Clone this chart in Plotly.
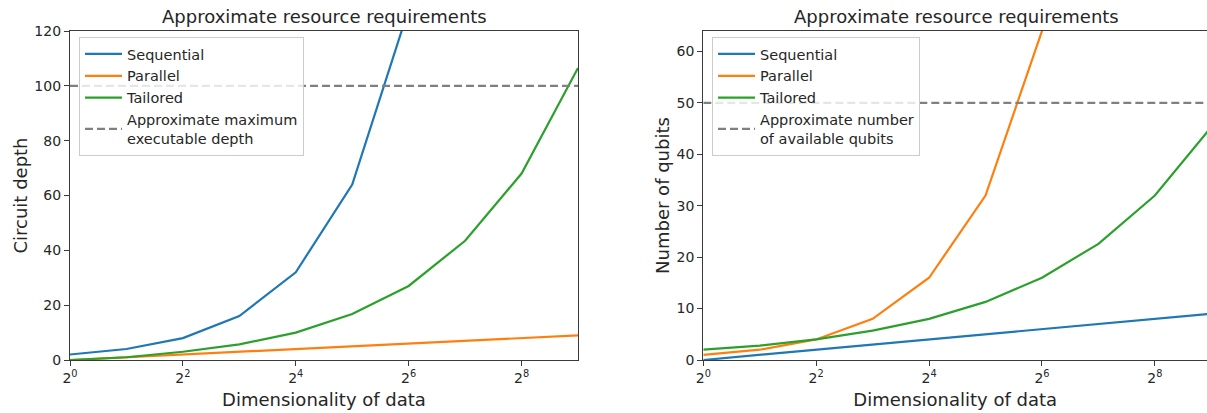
import plotly.graph_objects as go

# ---- data ----
dims = [1, 2, 4, 8, 16, 32, 64, 128, 256, 512]
x_tickvals = [1, 4, 16, 64, 256]
x_ticktext = ["2<sup>0</sup>", "2<sup>2</sup>", "2<sup>4</sup>", "2<sup>6</sup>", "2<sup>8</sup>"]

depth_sequential = [2, 4, 8, 16, 32, 64, 128, 256, 512, 1024]
depth_parallel = [0, 1, 2, 3, 4, 5, 6, 7, 8, 9]
depth_tailored = [0, 1, 3, 5.7, 10, 16.8, 27, 43.5, 68, 106.5]
max_depth = 100

qubits_sequential = [0, 1, 2, 3, 4, 5, 6, 7, 8, 9]
qubits_parallel = [1, 2, 4, 8, 16, 32, 64, 128, 256, 512]
qubits_tailored = [2, 2.8, 4, 5.7, 8, 11.3, 16, 22.6, 32, 45.3]
available_qubits = 50

BLUE, ORANGE, GREEN, GRAY = "#1f77b4", "#ff7f0e", "#2ca02c", "#808080"
FONT = "DejaVu Sans"
TXT = "#262626"

W, H = 1207, 413
ML, MB, MT = 70, 53, 31
PW = W - ML
PH = H - MB - MT

fig = go.Figure()

def add(x, y, name, color, xa, ya, leg, dash="solid"):
    fig.add_trace(go.Scatter(
        x=x, y=y, name=name, mode="lines",
        line=dict(color=color, width=2.2, dash=dash),
        xaxis=xa, yaxis=ya, legend=leg, hoverinfo="skip"))

add(dims, depth_sequential, "Sequential", BLUE, "x", "y", "legend")
add(dims, depth_parallel, "Parallel", ORANGE, "x", "y", "legend")
add(dims, depth_tailored, "Tailored", GREEN, "x", "y", "legend")
add([dims[0], dims[-1]], [max_depth, max_depth],
    "Approximate maximum<br>executable depth", GRAY, "x", "y", "legend", dash="8px,4px")

add(dims, qubits_sequential, "Sequential", BLUE, "x2", "y2", "legend2")
add(dims, qubits_parallel, "Parallel", ORANGE, "x2", "y2", "legend2")
add(dims, qubits_tailored, "Tailored", GREEN, "x2", "y2", "legend2")
add([dims[0], dims[-1]], [available_qubits, available_qubits],
    "Approximate number<br>of available qubits", GRAY, "x2", "y2", "legend2", dash="8px,4px")

def px_x(p):
    return (p - ML) / PW

def px_y(p):
    return (H - MB - p) / PH

ax_common = dict(
    showline=True, linecolor="#3a3a3a", linewidth=1.3,
    ticks="outside", ticklen=5, tickwidth=1.2, tickcolor="#3a3a3a",
    showgrid=False, zeroline=False, automargin=False,
    tickfont=dict(family=FONT, size=14, color=TXT),
    title_font=dict(family=FONT, size=18, color=TXT),
)

left_end = px_x(578)
right_start = px_x(703.3)
per_exp = (578 - 70) / 9.0
right_max_exp = (1207 - 703.3) / per_exp

legend_style = dict(xanchor="left", yanchor="top",
                    bgcolor="rgba(255,255,255,0.8)", bordercolor="#cccccc", borderwidth=1,
                    font=dict(family=FONT, size=14.5, color=TXT), tracegroupgap=0,
                    itemwidth=37)

fig.update_layout(
    width=W, height=H,
    margin=dict(l=ML, r=0, t=MT, b=MB, pad=0),
    plot_bgcolor="white", paper_bgcolor="white",
    font=dict(family=FONT, color=TXT),
    xaxis=dict(ax_common, type="log", domain=[0, left_end], range=[0, 9 * 0.30103],
               tickvals=x_tickvals, ticktext=x_ticktext, mirror=True,
               title=dict(text="Dimensionality of data", standoff=8), anchor="y"),
    yaxis=dict(ax_common, domain=[0, 1], range=[0, 120], dtick=20, mirror=True,
               title=dict(text="Circuit depth", standoff=2), anchor="x"),
    xaxis2=dict(ax_common, type="log", domain=[right_start, 1], range=[0, right_max_exp * 0.30103],
                tickvals=x_tickvals, ticktext=x_ticktext, mirror=True,
                title=dict(text="Dimensionality of data", standoff=8), anchor="y2"),
    yaxis2=dict(ax_common, domain=[0, 1], range=[0, 64], dtick=10, mirror=False,
                title=dict(text="Number of qubits", standoff=2), anchor="x2"),
    legend=dict(legend_style, x=px_x(79), y=px_y(37)),
    legend2=dict(legend_style, x=px_x(712), y=px_y(37)),
    showlegend=True,
)

for cx, text in [((70 + 578) / 2, "Approximate resource requirements"),
                 ((703.3 + 1210) / 2, "Approximate resource requirements")]:
    fig.add_annotation(text=text, x=px_x(cx), y=px_y(16), xref="paper", yref="paper",
                       xanchor="center", yanchor="middle", showarrow=False,
                       font=dict(family=FONT, size=18, color=TXT))

fig.write_html(
    "out.html",
    config={"displayModeBar": False},
    post_script="document.body.style.margin='0';document.body.style.overflow='hidden';",
)
